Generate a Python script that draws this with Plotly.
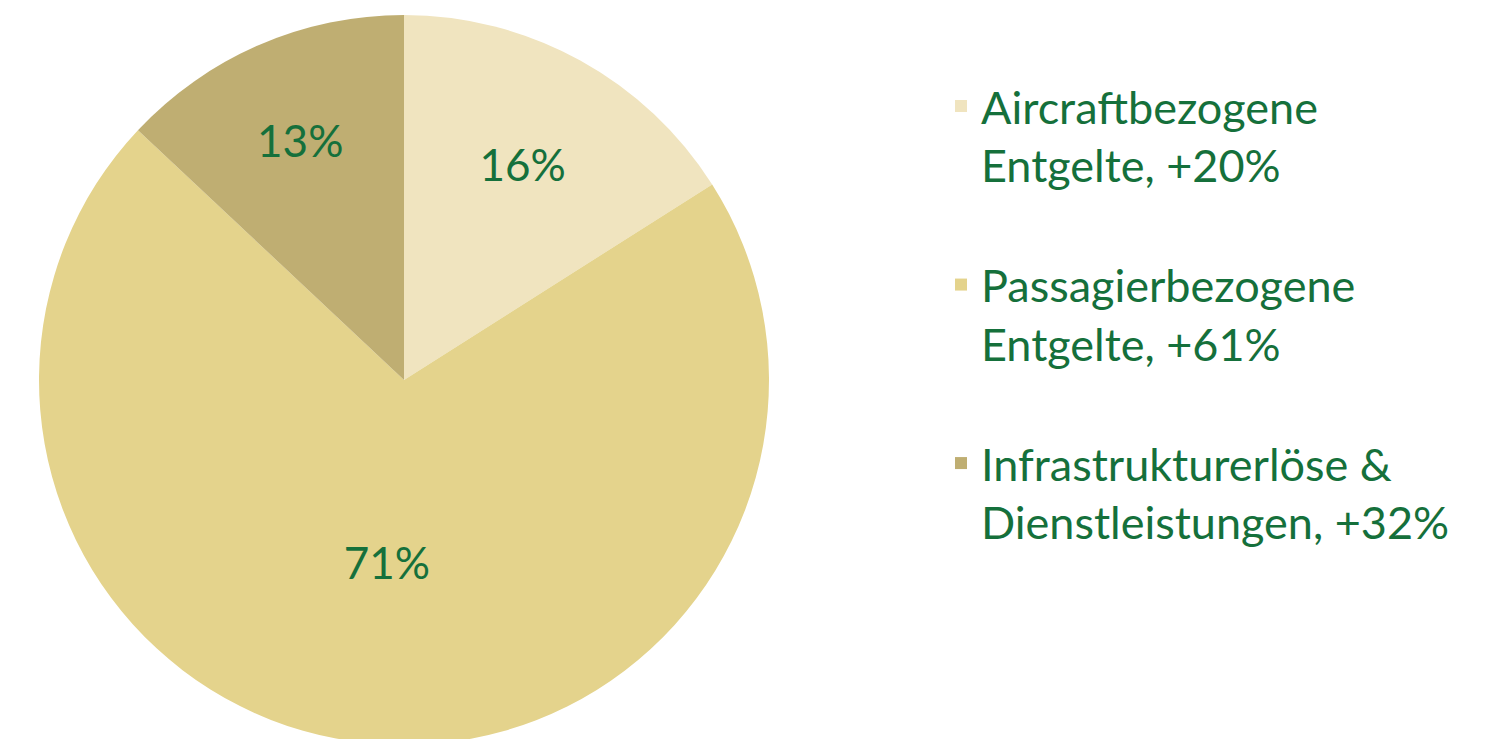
import plotly.graph_objects as go

categories = ["Aircraftbezogene Entgelte", "Passagierbezogene Entgelte", "Infrastrukturerlöse & Dienstleistungen"]
legend_lines = [["Aircraftbezogene", "Entgelte"], ["Passagierbezogene", "Entgelte"], ["Infrastrukturerlöse &", "Dienstleistungen"]]
shares = [16, 71, 13]
growth = [20, 61, 32]
colors = ["#F0E4BF", "#E4D38C", "#BFAE72"]

labels = [f"{a}<br>{b}, +{g}%<br> " for (a, b), g in zip(legend_lines, growth)]

FONT = "Lato"
GREEN = "#15703B"
W, H = 1509, 739

fig = go.Figure(go.Pie(
    labels=labels,
    values=shares,
    sort=False,
    direction="clockwise",
    rotation=0,
    marker=dict(colors=colors, line=dict(width=0)),
    textinfo="percent",
    textposition="inside",
    insidetextorientation="horizontal",
    textfont=dict(family=FONT, size=44, color=GREEN),
    domain=dict(x=[31 / W, 761 / W], y=[0, 1]),
    hoverinfo="skip",
))

fig.update_layout(
    width=W,
    height=H,
    margin=dict(l=0, r=0, t=7, b=2),
    paper_bgcolor="white",
    plot_bgcolor="white",
    showlegend=True,
    legend=dict(
        x=933 / W, xanchor="left",
        y=1 - 56 / H, yanchor="top",
        valign="top",
        font=dict(family=FONT, size=45, color=GREEN),
        bgcolor="rgba(0,0,0,0)",
        tracegroupgap=0,
    ),
)

fig.write_html("out.html")
